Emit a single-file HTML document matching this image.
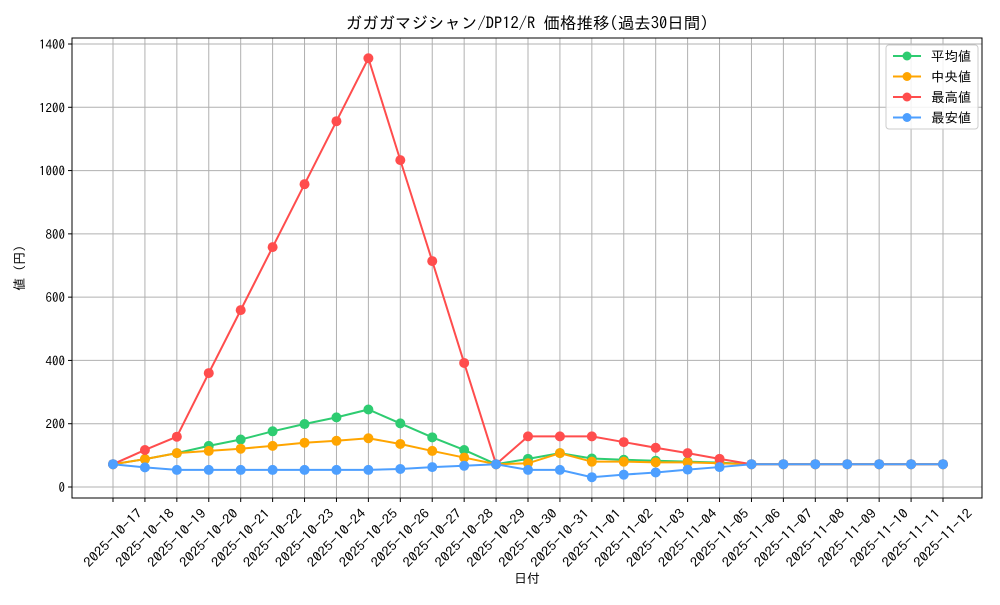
<!DOCTYPE html>
<html><head><meta charset="utf-8"><style>
body{margin:0;background:#fff;}
svg text{font-family:"IPAGothic","Noto Sans CJK JP",monospace;}
</style></head><body>
<svg id="chart" width="1000" height="600" xmlns="http://www.w3.org/2000/svg">
<rect width="1000" height="600" fill="#fff"/>
<text x="527" y="29" text-anchor="middle" font-size="16.5">ガガガマジシャン/DP12/R 価格推移(過去30日間)</text>
<g id="grid"></g>
<rect x="72" y="38" width="910" height="460" fill="none" stroke="#000" stroke-width="1"/>
<g id="ticks"></g>
<g id="series"></g>
<text x="527" y="583" text-anchor="middle" font-size="13">日付</text>
<text transform="translate(24,268) rotate(-90)" text-anchor="middle" font-size="13">値 (円)</text>
<g id="legend"></g>
</svg>
<script>
const categories=["2025-10-17","2025-10-18","2025-10-19","2025-10-20","2025-10-21","2025-10-22","2025-10-23","2025-10-24","2025-10-25","2025-10-26","2025-10-27","2025-10-28","2025-10-29","2025-10-30","2025-10-31","2025-11-01","2025-11-02","2025-11-03","2025-11-04","2025-11-05","2025-11-06","2025-11-07","2025-11-08","2025-11-09","2025-11-10","2025-11-11","2025-11-12"];
const meanValues=[72,88,107,130,150,176,199,220,245,201,157,117,72,89,107,90,86,83,80,77,72,72,72,72,72,72,72];
const medianValues=[72,88,107,114,121,130,140,146,154,136,114,93,72,75,107,80,80,78,78,75,72,72,72,72,72,72,72];
const maxValues=[72,117,159,360,559,758,957,1156,1355,1033,714,392,72,160,160,160,142,124,107,89,72,72,72,72,72,72,72];
const minValues=[72,62,54,54,54,54,54,54,54,57,63,67,72,54,54,31,39,46,55,63,72,72,72,72,72,72,72];
const yTicks=[0,200,400,600,800,1000,1200,1400];
const seriesNames=["平均値","中央値","最高値","最安値"];
const NS="http://www.w3.org/2000/svg";
const xs=i=>113+i*(943-113)/26;
const ys=v=>487-v*(487-44)/1400;
function mk(tag,attrs,parent){const e=document.createElementNS(NS,tag);for(const k in attrs)e.setAttribute(k,attrs[k]);parent.appendChild(e);return e;}
const grid=document.getElementById('grid'),ticks=document.getElementById('ticks'),series=document.getElementById('series'),legend=document.getElementById('legend');
categories.forEach((c,i)=>{
  const x=xs(i);
  const gl=mk('line',{x1:x,x2:x,y1:38,y2:498,stroke:'#b0b0b0','stroke-width':1},grid);
  
  
  mk('line',{x1:x,x2:x,y1:498,y2:502,stroke:'#000'},ticks);
  const t=mk('text',{transform:`translate(${x},${538}) rotate(-45)`,'text-anchor':'middle','dominant-baseline':'central','font-size':13,textLength:76,lengthAdjust:'spacingAndGlyphs'},ticks);
  t.textContent=c;
  
  
});
yTicks.forEach(v=>{
  const y=ys(v);
  const gl=mk('line',{x1:72,x2:982,y1:y,y2:y,stroke:'#b0b0b0','stroke-width':1},grid);
  
  
  mk('line',{x1:68,x2:72,y1:y,y2:y,stroke:'#000'},ticks);
  const t=mk('text',{x:65,y:y+5,'text-anchor':'end','font-size':13},ticks);
  t.textContent=v;
  
  
});
const all=[[meanValues,'#2ecc71'],[medianValues,'#ffa500'],[maxValues,'#ff4d4d'],[minValues,'#4d9fff']];
all.forEach(([vals,col],si)=>{
  const g=mk('g',{},series);
  
  
  mk('polyline',{points:vals.map((v,i)=>xs(i)+','+ys(v)).join(' '),fill:'none',stroke:col,'stroke-width':2},g);
  vals.forEach((v,i)=>{
    const p=mk('circle',{cx:xs(i),cy:ys(v),r:5,fill:col},g);
    
    
  });
  const ly=56+si*20.5;
  mk('line',{x1:893,x2:921,y1:ly,y2:ly,stroke:col,'stroke-width':2},legend);
  mk('circle',{cx:907,cy:ly,r:4.5,fill:col},legend);
  const t=mk('text',{x:931,y:ly+5,'font-size':13.5},legend);
  t.textContent=(si==1?' ':'')+seriesNames[si];
  
  
});
const lb=document.createElementNS(NS,'rect');
for(const [k,v] of Object.entries({x:886,y:45,width:92,height:84,rx:3,fill:'#fff','fill-opacity':0.85,stroke:'#ccc'}))lb.setAttribute(k,v);
legend.insertBefore(lb,legend.firstChild);
</script>
</body></html>
